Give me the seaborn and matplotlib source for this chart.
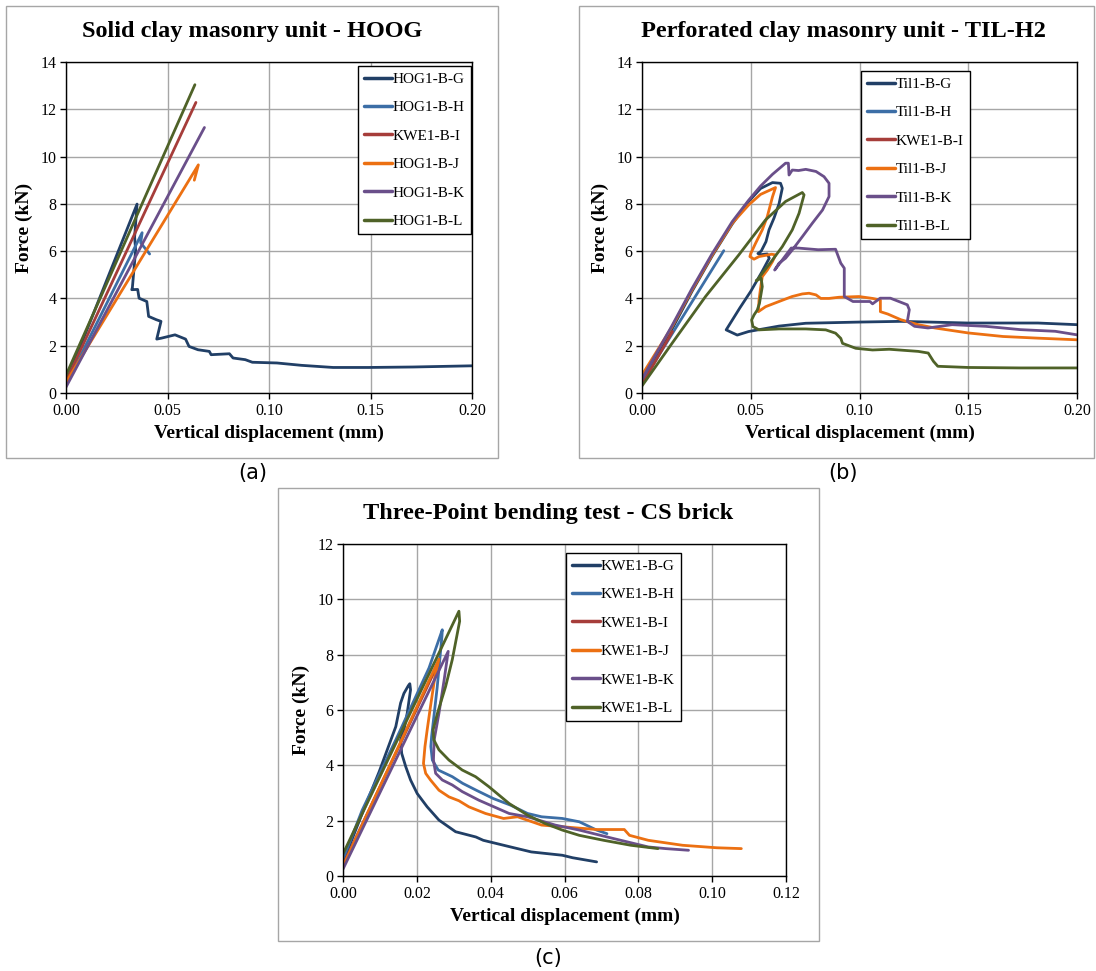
import numpy as np
import pandas as pd
import matplotlib
matplotlib.use("Agg")
import matplotlib.pyplot as plt
import seaborn as sns
from matplotlib.patches import Rectangle
from matplotlib.ticker import FormatStrFormatter, MultipleLocator

# ---------------- data ----------------
colors = ["#213F66", "#3C6EA6", "#A63D3A", "#EC7012", "#6A4F8A", "#4F6228"]

# (a) Solid clay masonry unit - HOOG
a_names = ["HOG1-B-G", "HOG1-B-H", "KWE1-B-I", "HOG1-B-J", "HOG1-B-K", "HOG1-B-L"]
a_G_x = [0, 0.035, 0.0338, 0.0343, 0.0327, 0.0324, 0.0353, 0.036, 0.0398, 0.0407, 0.0445,
         0.0468, 0.0447, 0.047, 0.0537, 0.0589, 0.0606, 0.065, 0.0706, 0.0715, 0.0805,
         0.0823, 0.0883, 0.0918, 0.1039, 0.116, 0.1316, 0.149, 0.171, 0.2]
a_G_y = [0.45, 7.99, 6.6, 6.05, 4.46, 4.37, 4.38, 4.01, 3.87, 3.24, 3.1,
         3.03, 2.28, 2.32, 2.46, 2.28, 1.97, 1.83, 1.76, 1.62, 1.66,
         1.48, 1.41, 1.30, 1.27, 1.17, 1.08, 1.08, 1.10, 1.15]
a_H_x = [0, 0.0375, 0.0368, 0.0412]
a_H_y = [0.35, 6.78, 6.35, 5.88]
a_I_x = [0, 0.064]
a_I_y = [0.5, 12.29]
a_J_x = [0, 0.0652, 0.0632]
a_J_y = [0.45, 9.65, 9.0]
a_K_x = [0, 0.0682]
a_K_y = [0.25, 11.23]
a_L_x = [0, 0.0635]
a_L_y = [0.75, 13.04]

# (b) Perforated clay masonry unit - TIL-H2
b_names = ["Til1-B-G", "Til1-B-H", "KWE1-B-I", "Til1-B-J", "Til1-B-K", "Til1-B-L"]
b_G_x = [0, 0.0138, 0.023, 0.0323, 0.0415, 0.049, 0.0545, 0.06, 0.0637, 0.0645, 0.063,
         0.0607, 0.0584, 0.057, 0.0548, 0.0533, 0.0545, 0.0576, 0.0585, 0.055, 0.05,
         0.045, 0.0387, 0.0438, 0.049, 0.063, 0.0753, 0.0998, 0.119, 0.15, 0.182, 0.2]
b_G_y = [0.55, 2.7, 4.3, 5.8, 7.15, 8.1, 8.65, 8.9, 8.87, 8.66, 8.0,
         7.4, 6.9, 6.4, 6.0, 5.9, 5.85, 5.88, 5.7, 5.1, 4.3,
         3.6, 2.67, 2.45, 2.6, 2.83, 2.95, 3.0, 3.03, 2.96, 2.96, 2.89]
b_H_x = [0, 0.0376]
b_H_y = [0.45, 6.02]
b_I_x = [0, 0.014]
b_I_y = [0.35, 2.6]
b_J_x = [0, 0.0138, 0.023, 0.0323, 0.0415, 0.049, 0.0545, 0.0614, 0.06, 0.0576, 0.0553,
         0.0522, 0.05, 0.0496, 0.0515, 0.0538, 0.0596, 0.0614, 0.06, 0.0576, 0.0553,
         0.0545, 0.0538, 0.0535, 0.0568, 0.063, 0.069, 0.0737, 0.0768, 0.08, 0.0822,
         0.086, 0.0906, 0.0998, 0.106, 0.1096, 0.1096, 0.113, 0.119, 0.127, 0.1347,
         0.15, 0.166, 0.182, 0.2]
b_J_y = [0.76, 2.8, 4.36, 5.84, 7.18, 7.95, 8.4, 8.69, 8.3, 7.46, 6.9,
         6.33, 5.9, 5.77, 5.66, 5.77, 5.87, 5.84, 5.56, 5.2, 4.92,
         4.43, 3.93, 3.44, 3.65, 3.87, 4.08, 4.19, 4.22, 4.15, 4.0,
         4.0, 4.05, 4.08, 4.0, 3.93, 3.44, 3.34, 3.1, 2.89, 2.75,
         2.54, 2.39, 2.32, 2.25]
b_K_x = [0, 0.0138, 0.023, 0.0323, 0.0415, 0.049, 0.0545, 0.06, 0.066, 0.0673, 0.0676,
         0.0691, 0.072, 0.0753, 0.08, 0.0837, 0.086, 0.086, 0.083, 0.0783, 0.0737,
         0.0691, 0.066, 0.063, 0.061, 0.0686, 0.0718, 0.081, 0.089, 0.0914, 0.093,
         0.093, 0.097, 0.1048, 0.106, 0.1095, 0.1142, 0.122, 0.1229, 0.122, 0.1253,
         0.1315, 0.1426, 0.158, 0.174, 0.19, 0.2]
b_K_y = [0.6, 2.85, 4.42, 5.9, 7.25, 8.15, 8.75, 9.25, 9.72, 9.72, 9.22,
         9.43, 9.41, 9.46, 9.37, 9.15, 8.87, 8.31, 7.74, 7.18, 6.61,
         6.05, 5.7, 5.49, 5.2, 6.13, 6.13, 6.06, 6.08, 5.49, 5.28,
         4.08, 3.87, 3.87, 3.77, 4.01, 4.01, 3.73, 3.52, 3.03, 2.82,
         2.75, 2.89, 2.82, 2.68, 2.61, 2.46]
b_L_x = [0, 0.0138, 0.0292, 0.0445, 0.0568, 0.066, 0.0737, 0.0745, 0.0722, 0.0691, 0.0645,
         0.06, 0.0553, 0.053, 0.0525, 0.0548, 0.0553, 0.054, 0.053, 0.0515, 0.0504,
         0.051, 0.0538, 0.063, 0.0753, 0.0845, 0.089, 0.0914, 0.0922, 0.0983, 0.106,
         0.1137, 0.127, 0.1316, 0.134, 0.136, 0.15, 0.174, 0.2]
b_L_y = [0.3, 2.1, 4.08, 5.84, 7.32, 8.1, 8.48, 8.38, 7.6, 6.9, 6.19,
         5.63, 5.06, 4.78, 4.75, 4.85, 4.5, 3.79, 3.51, 3.3, 3.09,
         2.81, 2.67, 2.71, 2.71, 2.67, 2.53, 2.31, 2.1, 1.89, 1.82,
         1.85, 1.76, 1.69, 1.34, 1.13, 1.08, 1.06, 1.06]

# (c) Three-Point bending test - CS brick
c_names = ["KWE1-B-G", "KWE1-B-H", "KWE1-B-I", "KWE1-B-J", "KWE1-B-K", "KWE1-B-L"]
c_G_x = [0, 0.0052, 0.0098, 0.0143, 0.0156, 0.0165, 0.0177, 0.0181, 0.0183, 0.0174, 0.0165,
         0.0156, 0.0159, 0.017, 0.0183, 0.0201, 0.0228, 0.026, 0.0305, 0.036, 0.038,
         0.0454, 0.051, 0.0594, 0.0622, 0.0687]
c_G_y = [0.5, 2.26, 3.77, 5.4, 6.25, 6.6, 6.88, 6.95, 6.73, 5.89, 5.28,
         4.92, 4.43, 3.95, 3.47, 2.98, 2.5, 2.02, 1.6, 1.41, 1.29,
         1.05, 0.87, 0.75, 0.66, 0.51]
c_H_x = [0, 0.0052, 0.0143, 0.0233, 0.0269, 0.0268, 0.0255, 0.024, 0.0238, 0.0242, 0.0258,
         0.0296, 0.0324, 0.0361, 0.0407, 0.0454, 0.05, 0.0538, 0.0594, 0.064, 0.0687, 0.0715]
c_H_y = [0.6, 2.38, 4.92, 7.52, 8.9, 8.66, 6.8, 5.04, 4.68, 4.19, 3.83,
         3.59, 3.35, 3.1, 2.8, 2.56, 2.26, 2.14, 2.08, 1.96, 1.66, 1.53]
c_I_x = [0, 0.0255]
c_I_y = [0.4, 7.6]
c_J_x = [0, 0.026, 0.0249, 0.0237, 0.0228, 0.0222, 0.0218, 0.0224, 0.0237, 0.026, 0.0287,
         0.0314, 0.0341, 0.0386, 0.0435, 0.0473, 0.0538, 0.0594, 0.0687, 0.0762, 0.0776,
         0.0827, 0.092, 0.1013, 0.1079]
c_J_y = [0.35, 7.84, 7.21, 6.13, 5.28, 4.68, 4.07, 3.71, 3.47, 3.1, 2.86,
         2.72, 2.5, 2.26, 2.08, 2.14, 1.84, 1.78, 1.68, 1.68, 1.47,
         1.29, 1.11, 1.02, 0.99]
c_K_x = [0, 0.0285, 0.0274, 0.026, 0.0247, 0.0245, 0.0251, 0.0269, 0.0296, 0.0323, 0.0368,
         0.045, 0.05, 0.0575, 0.064, 0.0734, 0.0827, 0.0874, 0.0936]
c_K_y = [0.25, 8.12, 7.09, 5.89, 4.92, 4.19, 3.71, 3.47, 3.29, 3.05, 2.74,
         2.26, 2.14, 1.84, 1.66, 1.35, 1.05, 0.99, 0.93]
c_L_x = [0, 0.0314, 0.0316, 0.031, 0.0296, 0.0278, 0.0256, 0.0244, 0.0246, 0.026, 0.0287,
         0.0323, 0.0359, 0.0395, 0.045, 0.05, 0.0547, 0.0594, 0.064, 0.0706, 0.078, 0.0853]
c_L_y = [0.8, 9.57, 9.21, 8.79, 7.82, 6.85, 5.89, 5.28, 4.92, 4.56, 4.19,
         3.83, 3.59, 3.23, 2.62, 2.2, 1.9, 1.66, 1.47, 1.29, 1.11, 0.99]

a_titles = "Solid clay masonry unit - HOOG"
b_titles = "Perforated clay masonry unit - TIL-H2"
c_titles = "Three-Point bending test - CS brick"

# ---------------- style ----------------
sns.set_theme(style="white")
plt.rcParams["font.family"] = ["Liberation Serif", "DejaVu Serif"]
plt.rcParams["text.color"] = "black"
plt.rcParams["axes.labelcolor"] = "black"
plt.rcParams["xtick.color"] = "black"
plt.rcParams["ytick.color"] = "black"

W, H = 1096, 971
fig = plt.figure(figsize=(W / 100, H / 100), dpi=100)
fig.patch.set_facecolor("white")


def px_rect(l, t, r, b):
    return [l / W, 1 - b / H, (r - l) / W, (b - t) / H]


def frame(l, t, r, b):
    fig.patches.append(Rectangle((l / W, 1 - b / H), (r - l) / W, (b - t) / H,
                                 transform=fig.transFigure, fill=False,
                                 edgecolor="#A6A6A6", lw=1.0, zorder=0))


def panel(rect, names, series, xmax, xstep, ymax, leg_xy, title, title_xy, lab, lab_xy):
    ax = fig.add_axes(px_rect(*rect))
    for name, (xs, ys), c in zip(names, series, colors):
        df = pd.DataFrame({"x": xs, "y": ys})
        sns.lineplot(data=df, x="x", y="y", ax=ax, sort=False, estimator=None,
                     color=c, lw=2.0, label=name)
    ax.set_xlim(0, xmax)
    ax.set_ylim(0, ymax)
    ax.xaxis.set_major_locator(MultipleLocator(xstep))
    ax.yaxis.set_major_locator(MultipleLocator(2))
    ax.xaxis.set_major_formatter(FormatStrFormatter("%.2f"))
    ax.grid(True, color="#A6A6A6", lw=1.0)
    ax.set_axisbelow(True)
    for s in ax.spines.values():
        s.set_color("black")
        s.set_linewidth(1.0)
    ax.tick_params(axis="both", which="major", direction="out", length=4, width=1.0,
                   color="black", labelcolor="black", labelsize=11.5, pad=3,
                   bottom=True, left=True)
    ax.set_xlabel("Vertical displacement (mm)", fontsize=14, fontweight="bold",
                  labelpad=4, color="black")
    ax.set_ylabel("Force (kN)", fontsize=14, fontweight="bold", labelpad=5, color="black")
    leg = ax.legend(loc="upper left", bbox_to_anchor=(leg_xy[0] / W, 1 - leg_xy[1] / H),
                    bbox_transform=fig.transFigure, borderaxespad=0, frameon=True,
                    fancybox=False, edgecolor="black", framealpha=1, fontsize=11,
                    handlelength=1.8, handletextpad=0.05, labelspacing=0.96,
                    borderpad=0.42)
    leg.get_frame().set_linewidth(1.0)
    for t in leg.get_texts():
        t.set_color("black")
    for line in leg.get_lines():
        line.set_linewidth(2.5)
    fig.text(title_xy[0] / W, 1 - title_xy[1] / H, title, ha="center", va="center",
             fontsize=17.5, fontweight="bold", color="black")
    fig.text(lab_xy[0] / W, 1 - lab_xy[1] / H, lab, ha="center", va="center",
             fontsize=15, family=["DejaVu Sans"], color="black")
    return ax


frame(6, 6, 498, 458)
frame(579, 6, 1094, 458)
frame(278, 488, 819, 941)

panel((66, 62, 472, 393), a_names,
      [(a_G_x, a_G_y), (a_H_x, a_H_y), (a_I_x, a_I_y), (a_J_x, a_J_y), (a_K_x, a_K_y), (a_L_x, a_L_y)],
      0.2, 0.05, 14, (358, 66), a_titles, (252, 32), "(a)", (253, 473))
panel((642, 62, 1077, 393), b_names,
      [(b_G_x, b_G_y), (b_H_x, b_H_y), (b_I_x, b_I_y), (b_J_x, b_J_y), (b_K_x, b_K_y), (b_L_x, b_L_y)],
      0.2, 0.05, 14, (861, 71), b_titles, (843, 32), "(b)", (843, 473))
panel((343, 544, 786, 876), c_names,
      [(c_G_x, c_G_y), (c_H_x, c_H_y), (c_I_x, c_I_y), (c_J_x, c_J_y), (c_K_x, c_K_y), (c_L_x, c_L_y)],
      0.12, 0.02, 12, (566, 553), c_titles, (548, 513), "(c)", (548, 958))

fig.savefig("out.png", dpi=100, facecolor="white")
